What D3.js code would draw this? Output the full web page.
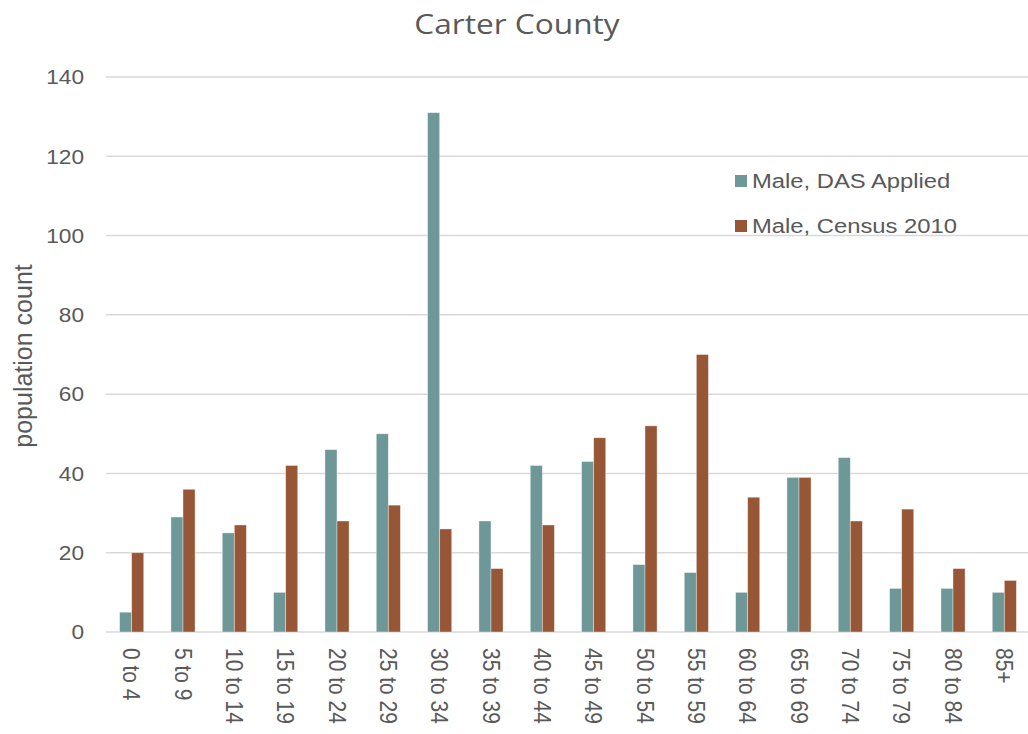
<!DOCTYPE html>
<html>
<head>
<meta charset="utf-8">
<script src="https://cdn.jsdelivr.net/npm/d3@7"></script>
<style>
  body { margin: 0; background: #fff; }
  text { font-family: "Liberation Sans", Arial, sans-serif; fill: #595959; }
</style>
</head>
<body>
<main></main>
<script>
const ageGroups = ['0 to 4', '5 to 9', '10 to 14', '15 to 19', '20 to 24', '25 to 29', '30 to 34', '35 to 39',
    '40 to 44', '45 to 49', '50 to 54', '55 to 59', '60 to 64', '65 to 69', '70 to 74', '75 to 79', '80 to 84', '85+'];
const dasApplied = [5, 29, 25, 10, 46, 50, 131, 28, 42, 43, 17, 15, 10, 39, 44, 11, 11, 10];
const census2010 = [20, 36, 27, 42, 28, 32, 26, 16, 27, 49, 52, 70, 34, 39, 28, 31, 16, 13];
const seriesNames = ['Male, DAS Applied', 'Male, Census 2010'];
const yTicks = [0, 20, 40, 60, 80, 100, 120, 140];

(() => {
    const w = 1028;
    const h = 734;
    const colors = ['#6e9898', '#975736'];
    const svg = d3.select('main').append('svg').attr('width', w).attr('height', h);

    const xScale = d3.scaleBand()
        .domain(ageGroups)
        .range([106, 1030])
        .paddingInner(0.53)
        .paddingOuter(0.265);
    const sub = d3.scaleBand()
        .domain([0, 1])
        .range([0, xScale.bandwidth()]);
    const yScale = d3.scaleLinear()
        .domain([0, 140])
        .range([632, 77]);

    // gridlines
    svg.append('g').selectAll('line').data(yTicks).enter().append('line')
        .attr('x1', 106).attr('x2', 1028)
        .attr('y1', d => yScale(d)).attr('y2', d => yScale(d))
        .attr('stroke', '#d9d9d9').attr('stroke-width', 1.5);

    // y tick labels (reference text is a bit wide, so stretch a little)
    svg.append('g').selectAll('text').data(yTicks).enter().append('text')
        .attr('transform', d => `translate(84, ${yScale(d)}) scale(1.08, 1)`)
        .attr('dy', '0.35em')
        .attr('text-anchor', 'end')
        .style('font-size', '21px')
        .text(d => d);

    // bars
    const series = [dasApplied, census2010];
    series.forEach((vals, s) => {
        svg.append('g').selectAll('rect').data(vals).enter().append('rect')
            .attr('x', (d, i) => xScale(ageGroups[i]) + sub(s))
            .attr('width', sub.bandwidth())
            .attr('y', d => yScale(d))
            .attr('height', d => yScale(0) - yScale(d))
            .attr('fill', colors[s])
            .attr('stroke', '#fff')
            .attr('stroke-opacity', 0.5)
            .attr('stroke-width', 0.75);
    });

    // x labels rotated
    svg.append('g').selectAll('text').data(ageGroups).enter().append('text')
        .attr('transform', d => `translate(${xScale(d) + xScale.bandwidth() / 2 - 8.5}, 648) rotate(90) scale(1, 1.12)`)
        .attr('text-anchor', 'start')
        .style('font-size', '21px')
        .text(d => d);

    // y axis title
    svg.append('text')
        .attr('transform', 'translate(32, 356) rotate(-90)')
        .attr('text-anchor', 'middle')
        .style('font-size', '25px')
        .text('population count');

    // title
    svg.append('text')
        .attr('transform', 'translate(517, 34) scale(1.13, 1)')
        .attr('text-anchor', 'middle')
        .style('font-family', '"Open Sans", sans-serif')
        .style('font-size', '28px')
        .text('Carter County');

    // legend
    const legend = svg.append('g').selectAll('g').data(seriesNames).enter().append('g')
        .attr('transform', (d, i) => `translate(735, ${181 + i * 45})`);
    legend.append('rect')
        .attr('x', 0).attr('y', -6).attr('width', 12).attr('height', 12)
        .attr('fill', (d, i) => colors[i]);
    legend.append('text')
        .attr('transform', 'translate(17, 0) scale(1.19, 1)')
        .attr('dy', '0.35em')
        .style('font-size', '20px')
        .text(d => d);
})();
</script>
</body>
</html>
